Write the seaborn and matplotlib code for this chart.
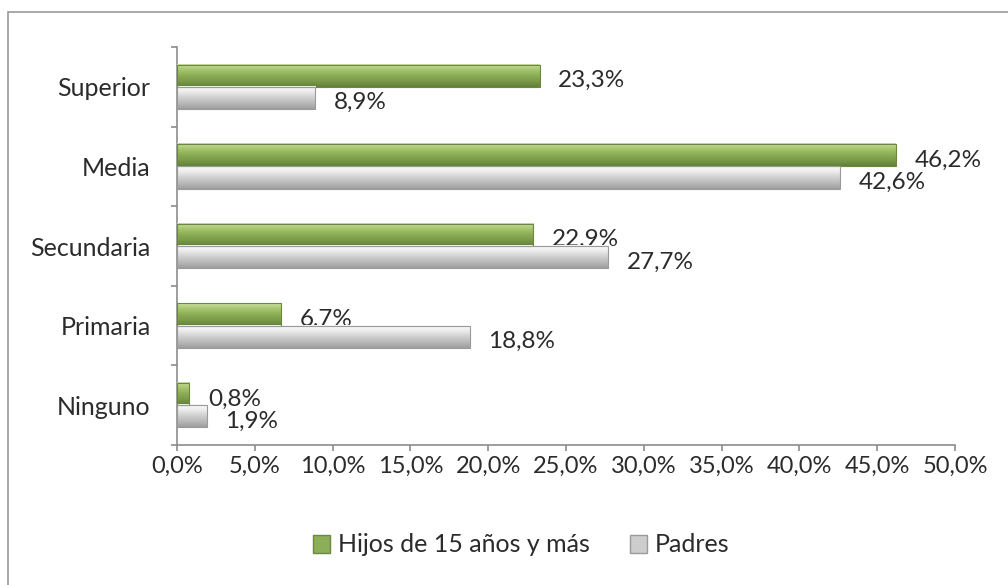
import numpy as np
import pandas as pd
import seaborn as sns
import matplotlib.pyplot as plt
from matplotlib.patches import Patch, Rectangle
from matplotlib.colors import LinearSegmentedColormap

niveles = ["Superior", "Media", "Secundaria", "Primaria", "Ninguno"]
hijos = [23.3, 46.2, 22.9, 6.7, 0.8]
padres = [8.9, 42.6, 27.7, 18.8, 1.9]
grupos = ["Hijos de 15 años y más", "Padres"]
xticks = [0, 5, 10, 15, 20, 25, 30, 35, 40, 45, 50]

df = pd.DataFrame({
    "nivel": niveles * 2,
    "valor": hijos + padres,
    "grupo": [grupos[0]] * len(niveles) + [grupos[1]] * len(niveles),
})

sns.set_theme(style="white")
plt.rcParams['font.family'] = ['Lato', 'DejaVu Sans']
txt = "#2b2b2b"
fs = 17.5

fig = plt.figure(figsize=(10.08, 5.85), dpi=100)
ax = fig.add_axes([177 / 1008, 1 - 445 / 585, (955 - 177) / 1008, (445 - 47) / 585])

verde = "#8dae58"
gris = "#cdcdcd"
sns.barplot(data=df, x="valor", y="nivel", hue="grupo", orient="h",
            palette=[verde, gris], width=0.56, order=niveles,
            hue_order=grupos, ax=ax, legend=False, saturation=1)

# gradientes tipo excel
cmaps = [
    LinearSegmentedColormap.from_list("g", ["#c8df9c", "#a6c56f", "#8cad56", "#7b9a48", "#63803b"]),
    LinearSegmentedColormap.from_list("s", ["#fafafa", "#ececec", "#d0d0d0", "#b9b9b9", "#9e9e9e"]),
]
bordes = ["#6b8742", "#9a9a9a"]
grad = np.linspace(0, 1, 60).reshape(-1, 1)
for cont, cm, bc, vals in zip(ax.containers, cmaps, bordes, [hijos, padres]):
    for bar, v in zip(cont, vals):
        x0, y0 = bar.get_x(), bar.get_y()
        w, h = bar.get_width(), bar.get_height()
        ax.imshow(grad, cmap=cm, aspect="auto", origin="upper",
                  extent=(x0, x0 + w, y0 + h, y0), zorder=3)
        bar.set_edgecolor(bc)
        bar.set_linewidth(0.8)
        bar.set_zorder(4)
        bar.set_facecolor("none")
        ax.annotate(f"{v:.1f}%".replace(".", ","), (x0 + w, y0 + h / 2),
                    xytext=(13.5, -3.5), textcoords="offset points",
                    ha="left", va="center", fontsize=fs, color=txt)

ax.set_xlim(0, 50)
ax.set_ylim(len(niveles) - 0.5, -0.5)
ax.set_xticks(xticks)
ax.set_xticklabels([f"{t:.1f}%".replace(".", ",") for t in xticks], fontsize=17, color=txt)
ax.set_yticks(range(len(niveles)))
ax.set_yticklabels(niveles, fontsize=18, color=txt)
ax.set_yticks(np.arange(-0.5, len(niveles)), minor=True)
ax.tick_params(axis="y", which="major", length=0, pad=19)
ax.tick_params(axis="y", which="minor", length=4.5, color="#8c8c8c", width=1.2, direction="out", left=True)
ax.tick_params(axis="x", length=4.5, color="#8c8c8c", width=1.2, direction="out", bottom=True, pad=3)
ax.set_xlabel("")
ax.set_ylabel("")
for s in ["top", "right"]:
    ax.spines[s].set_visible(False)
for s in ["left", "bottom"]:
    ax.spines[s].set_color("#8c8c8c")
    ax.spines[s].set_linewidth(1.2)

handles = [Patch(facecolor=verde, edgecolor=bordes[0]), Patch(facecolor=gris, edgecolor=bordes[1])]
fig.legend(handles, grupos, loc="center", bbox_to_anchor=(0.517, 1 - 545 / 585),
           ncol=2, frameon=False, fontsize=18, handlelength=0.7, handleheight=0.7,
           handletextpad=0.3, columnspacing=1.6, labelcolor=txt)

fig.patches.append(Rectangle((8 / 1008, -0.1), 1.2, 1 - 12 / 585 + 0.1,
                             transform=fig.transFigure, fill=False,
                             edgecolor="#9a9a9a", linewidth=1.2))

fig.savefig("out.png", dpi=100)
